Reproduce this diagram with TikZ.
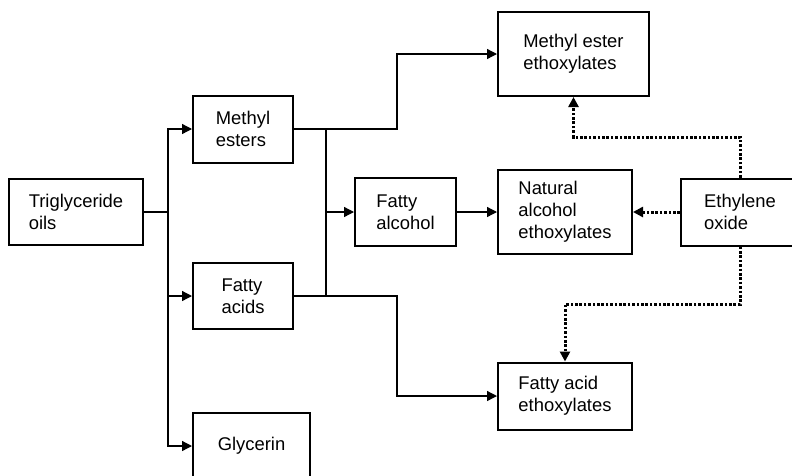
\documentclass[tikz,border=0pt]{standalone}
\usepackage{fontspec}
\setmainfont{Liberation Sans}
\usetikzlibrary{arrows.meta}

\tikzset{
  box/.style={draw, line width=2pt, rectangle, inner sep=0pt, align=left,
              font=\fontsize{18.4}{22}\selectfont},
  flow/.style={line width=1.3pt, -{Triangle[length=10pt,width=10pt]}},
  plain/.style={line width=1.3pt},
  eoflow/.style={line width=3pt, dash pattern=on 2.6pt off 1.8pt,
                 -{Triangle[length=10pt,width=10pt]}},
}

\begin{document}
\begin{tikzpicture}[x=1pt,y=-1pt]
\useasboundingbox (0,0) rectangle (792,475);
\clip (0,0) rectangle (792,475);
\fill[white] (0,0) rectangle (792,475);

% process boxes
\node[box, minimum width=134pt, minimum height=66pt] (trig)  at (76,212)    {Triglyceride\\oils};
\node[box, minimum width=100pt, minimum height=67pt] (mest)  at (243,129)   {Methyl\\esters};
\node[box, minimum width=100pt, minimum height=66pt] (facid) at (243,296)   {Fatty\\acids};
\node[box, minimum width=117pt, minimum height=67pt] (glyc)  at (251.5,446) {Glycerin};
\node[box, minimum width=101pt, minimum height=68pt] (falc)  at (405.5,212) {Fatty\\alcohol};
\node[box, minimum width=151pt, minimum height=84pt] (mee)   at (573.5,54)  {Methyl ester\\ethoxylates};
\node[box, minimum width=134pt, minimum height=84pt] (nae)   at (565,212)   {Natural\\alcohol\\ethoxylates};
\node[box, minimum width=118pt, minimum height=67pt] (eo)    at (740,212)   {Ethylene\\oxide};
\node[box, minimum width=134pt, minimum height=67pt] (fae)   at (565,396)   {Fatty acid\\ethoxylates};

% routing points
\coordinate (split) at (168,212);
\coordinate (busT)  at (326,129);
\coordinate (busB)  at (326,296);
\coordinate (busM)  at (326,212);
\coordinate (upT)   at (397,129);
\coordinate (dnB)   at (397,296);
\coordinate (eoUp)  at (740,137);
\coordinate (eoDn)  at (740,304);

% splitting of the oils
\draw[plain] (trig.east) -- (split);
\draw[flow] (split) |- (mest.west);
\draw[flow] (split) |- (facid.west);
\draw[flow] (split) |- (glyc.west);

% esters and acids
\draw[plain] (busT) -- (busB);
\draw[flow] (mest.east) -- (upT) |- (mee.west);
\draw[flow] (facid.east) -- (dnB) |- (fae.west);
\draw[flow] (busM) -- (falc.west);
\draw[flow] (falc.east) -- (nae.west);

% ethoxylation
\draw[eoflow] (eo.west) -- (nae.east);
\draw[eoflow] (eo.north) -- (eoUp) -| (mee.south);
\draw[eoflow] (eo.south) -- (eoDn) -| (fae.north);
\end{tikzpicture}
\end{document}
